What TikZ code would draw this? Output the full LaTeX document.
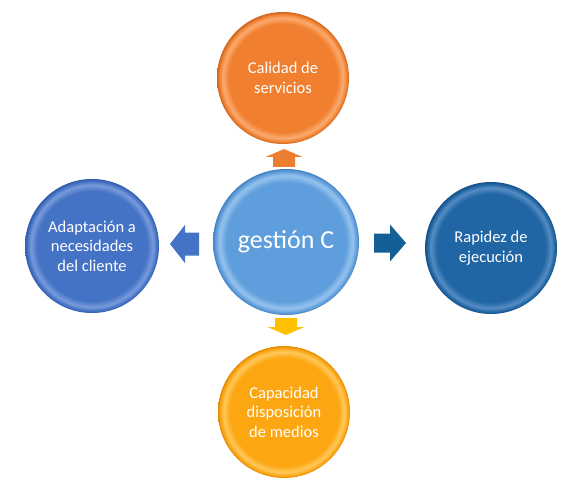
\documentclass[tikz,border=0pt]{standalone}
\usepackage{fontspec}
\setmainfont{Carlito}
\definecolor{orB}{RGB}{240,128,48}\definecolor{orL}{RGB}{250,170,110}\definecolor{orD}{RGB}{205,100,30}
\definecolor{lbB}{RGB}{68,114,196}\definecolor{lbL}{RGB}{120,155,220}\definecolor{lbD}{RGB}{50,90,170}
\definecolor{rbB}{RGB}{32,102,164}\definecolor{rbL}{RGB}{85,140,195}\definecolor{rbD}{RGB}{22,80,135}
\definecolor{yeB}{RGB}{252,166,18}\definecolor{yeL}{RGB}{255,200,90}\definecolor{yeD}{RGB}{225,140,10}
\definecolor{ceB}{RGB}{95,158,220}\definecolor{ceL}{RGB}{150,195,238}\definecolor{ceD}{RGB}{70,130,195}
\definecolor{arOr}{RGB}{237,125,49}\definecolor{arLb}{RGB}{68,114,196}\definecolor{arRb}{RGB}{20,95,150}\definecolor{arYe}{RGB}{255,192,0}
\pgfdeclareradialshading{shOr}{\pgfpoint{0bp}{0bp}}{color(0bp)=(orB); color(20.5bp)=(orB); color(22.8bp)=(orL); color(24.2bp)=(orB); color(25bp)=(orD); color(50bp)=(orD)}
\pgfdeclareradialshading{shLb}{\pgfpoint{0bp}{0bp}}{color(0bp)=(lbB); color(20.5bp)=(lbB); color(22.8bp)=(lbL); color(24.2bp)=(lbB); color(25bp)=(lbD); color(50bp)=(lbD)}
\pgfdeclareradialshading{shRb}{\pgfpoint{0bp}{0bp}}{color(0bp)=(rbB); color(20.5bp)=(rbB); color(22.8bp)=(rbL); color(24.2bp)=(rbB); color(25bp)=(rbD); color(50bp)=(rbD)}
\pgfdeclareradialshading{shYe}{\pgfpoint{0bp}{0bp}}{color(0bp)=(yeB); color(20.5bp)=(yeB); color(22.8bp)=(yeL); color(24.2bp)=(yeB); color(25bp)=(yeD); color(50bp)=(yeD)}
\pgfdeclareradialshading{shCe}{\pgfpoint{0bp}{0bp}}{color(0bp)=(ceB); color(20.5bp)=(ceB); color(22.8bp)=(ceL); color(24.2bp)=(ceB); color(25bp)=(ceD); color(50bp)=(ceD)}
\begin{document}
\begin{tikzpicture}[x=1pt,y=-1pt,
  ball/.style={circle, inner sep=0pt, shade, text=white, align=center, font=\fontsize{16.5}{19.5}\selectfont}]
\useasboundingbox[fill=white] (0,0) rectangle (577,494);
\node[ball, minimum size=146pt, shading=shCe, font=\fontsize{26}{30}\selectfont] (c) at (286,242) {gestión C};
\node[ball, minimum size=132pt, shading=shOr] (t) at (283,78) {Calidad de\\servicios};
\node[ball, minimum size=134pt, shading=shLb] (l) at (92,246) {Adaptación a\\necesidades\\del cliente};
\node[ball, minimum size=132pt, shading=shRb] (r) at (491,248) {Rapidez de\\ejecución};
\node[ball, minimum size=132pt, shading=shYe] (b) at (284,412) {Capacidad\\disposición\\de medios};
% block arrows
\fill[arOr] (273,167) -- (273,157) -- (265.5,157) -- (284,149) -- (302.5,157) -- (295,157) -- (295,167) -- cycle;
\fill[arLb] (199,232.5) -- (185,232.5) -- (185,225) -- (170,244) -- (185,263) -- (185,255.5) -- (199,255.5) -- cycle;
\fill[arRb] (374,233.5) -- (390,233.5) -- (390,224.5) -- (406,243) -- (390,261.5) -- (390,252.5) -- (374,252.5) -- cycle;
\fill[arYe] (275,318) -- (275,327) -- (267.5,327) -- (286,335) -- (304.5,327) -- (297,327) -- (297,318) -- cycle;
\end{tikzpicture}
\end{document}
